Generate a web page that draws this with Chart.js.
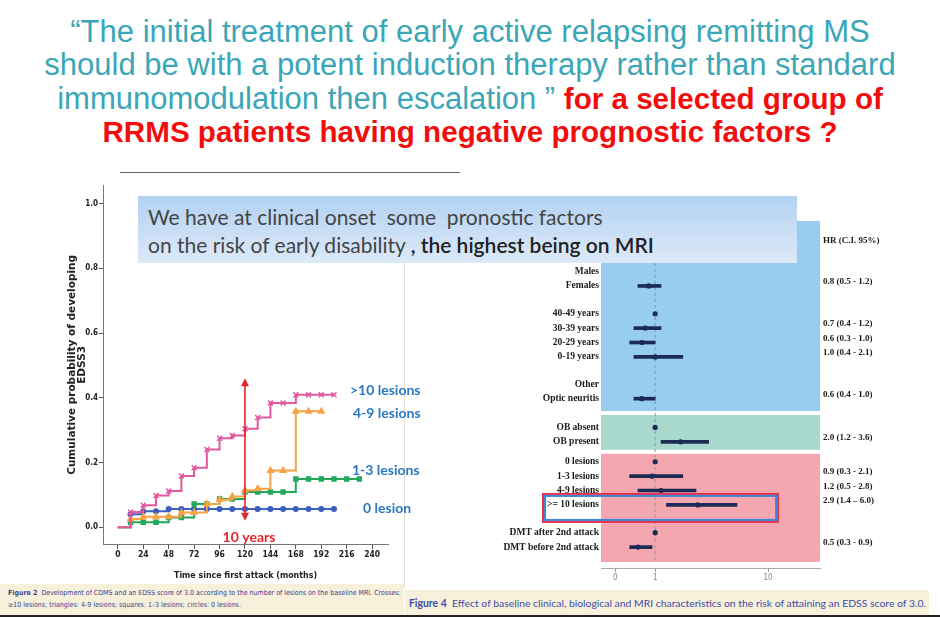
<!DOCTYPE html>
<html>
<head>
<meta charset="utf-8">
<script src="https://cdn.jsdelivr.net/npm/chart.js@4.4.1/dist/chart.umd.min.js"></script>
<style>
  body { margin: 0; width: 940px; height: 617px; overflow: hidden; background: #fff; position: relative; font-family: 'Liberation Sans', Arial, sans-serif; }
  .abs { position: absolute; }
  #title { left: 0; top: 15px; width: 940px; text-align: center; font-size: 31px; line-height: 33.3px; color: #3ba6b7; white-space: nowrap; }
  #title b { color: #f20d0d; font-size: 29.6px; }
  #rule { left: 120px; top: 172px; width: 340px; height: 1px; background: #666; }
  #note { left: 138px; top: 196px; width: 649px; height: 60px; padding: 7px 0 0 10px; z-index: 5; white-space: nowrap;
          background: linear-gradient(#b2d2f2, #dde9f8); color: #444; font-family: Lato, sans-serif; font-size: 21px; line-height: 28px; }
  #note b { color: #222; font-weight: 600; }
  .lab { font-family: Lato, sans-serif; font-weight: bold; font-size: 14px; color: #2a78c2; line-height: 16px; z-index: 3; }
  #divider { left: 404px; top: 258px; width: 1px; height: 330px; background: #e4e0d2; }
  #cap1 { left: 0; top: 584px; width: 396px; height: 31px; padding: 3px 0 0 8px; background: #f7f1dc; color: #3b3b8c; white-space: nowrap;
          font-family: 'DejaVu Sans Condensed', sans-serif; font-size: 7px; line-height: 12px; }
  #cap2 { left: 405px; top: 590px; width: 520px; height: 25px; padding: 0 0 0 4px; background: #f7f1dc; color: #3d4aa8;
          font-family: Lato, sans-serif; font-size: 10.4px; line-height: 27px; white-space: nowrap; }
  #foot { left: 0; top: 615px; width: 940px; height: 2px; background: #222; }
</style>
</head>
<body>
<div id="title" class="abs">“The initial treatment of early active relapsing remitting MS<br>should be with a potent induction therapy rather than standard<br>immunomodulation then escalation ” <b>for a selected group of<br>RRMS patients having negative prognostic factors ?</b></div>
<div id="rule" class="abs"></div>

<div class="abs" style="left:0;top:180px;width:400px;height:401px"><canvas id="km"></canvas></div>
<div class="abs" style="left:405px;top:200px;width:535px;height:388px"><canvas id="forest"></canvas></div>
<div id="divider" class="abs"></div>

<div id="note" class="abs">We have at clinical onset&nbsp; some&nbsp; pronostic factors<br>on the risk of early disability <b>, the highest being on MRI</b></div>

<div class="abs lab" style="left:350px;top:382px">&gt;10 lesions</div>
<div class="abs lab" style="left:353px;top:405px">4-9 lesions</div>
<div class="abs lab" style="left:352px;top:462px">1-3 lesions</div>
<div class="abs lab" style="left:363px;top:500px">0 lesion</div>

<div id="cap1" class="abs"><b>Figure 2</b>&nbsp; Development of CDMS and an EDSS score of 3.0 according to the number of lesions on the baseline MRI. Crosses:<br>≥10 lesions; triangles: 4-9 lesions; squares: 1–3 lesions; circles: 0 lesions.</div>
<div id="cap2" class="abs"><b>Figure 4</b>&nbsp; Effect of baseline clinical, biological and MRI characteristics on the risk of attaining an EDSS score of 3.0.</div>
<div id="foot" class="abs"></div>

<script>
// ---- Figure 2: cumulative probability of EDSS 3 (Kaplan-Meier style steps) ----
const months = [0, 12, 24, 36, 48, 60, 72, 84, 96, 108, 120, 132, 144, 156, 168, 180, 192, 204, 216, 228];
const lesionsOver10 = [0, 0.047, 0.068, 0.098, 0.112, 0.158, 0.184, 0.240, 0.275, 0.283, 0.304, 0.339, 0.384, 0.384, 0.409, 0.409, 0.409, 0.409];
const lesions4to9 = [0, 0.025, 0.032, 0.032, 0.032, 0.045, 0.045, 0.072, 0.085, 0.095, 0.114, 0.119, 0.175, 0.175, 0.358, 0.358, 0.358];
const lesions1to3 = [0, 0.015, 0.015, 0.015, 0.030, 0.030, 0.072, 0.072, 0.087, 0.087, 0.109, 0.109, 0.109, 0.109, 0.149, 0.149, 0.149, 0.149, 0.149, 0.149];
const lesions0 = [0, 0.040, 0.049, 0.049, 0.056, 0.056, 0.056, 0.056, 0.056, 0.056, 0.056, 0.056, 0.056, 0.056, 0.056, 0.056, 0.056, 0.056];
const monthTicks = [0, 24, 48, 72, 96, 120, 144, 168, 192, 216, 240];
const probTicks = [0, 0.2, 0.4, 0.6, 0.8, 1.0];
const tenYears = 120;

// ---- Figure 4: hazard ratios ----
const groups = [
  ['Males', 'Females'],
  ['40-49 years', '30-39 years', '20-29 years', '0-19 years'],
  ['Other', 'Optic neuritis'],
  ['OB absent', 'OB present'],
  ['0 lesions', '1-3 lesions', '4-9 lesions', '>= 10 lesions'],
  ['DMT after 2nd attack', 'DMT before 2nd attack']
];
const hazard = [null, 0.8, 1, 0.7, 0.6, 1.0, null, 0.6, 1, 2.0, 1, 0.9, 1.2, 2.9, 1, 0.5];
const ciLow  = [null, 0.5, null, 0.4, 0.3, 0.4, null, 0.4, null, 1.2, null, 0.3, 0.5, 1.4, null, 0.3];
const ciHigh = [null, 1.2, null, 1.2, 1.0, 2.1, null, 1.0, null, 3.6, null, 2.1, 2.8, 6.0, null, 0.9];
const hrTicks = [0, 1, 10];
const highlightRow = '>= 10 lesions';

const narrow = '"DejaVu Sans Condensed", sans-serif';
const serif = '"Liberation Serif", "Times New Roman", serif';

function steps(vals) {
  return vals.map((v, i) => ({ x: months[i], y: v }));
}

function kmSet(label, vals, color, style, r) {
  return {
    label: label,
    data: steps(vals),
    stepped: 'before',
    borderColor: color,
    backgroundColor: color,
    borderWidth: 2,
    pointStyle: style,
    pointRadius: c => c.dataIndex === 0 ? 0 : r,
    pointBorderWidth: 1.5,
    fill: false
  };
}

const arrowPlugin = {
  id: 'tenYearArrow',
  afterDatasetsDraw(chart) {
    const { ctx, scales: { x, y } } = chart;
    const px = x.getPixelForValue(tenYears);
    const top = y.getPixelForValue(0.46), bot = y.getPixelForValue(0.02);
    ctx.save();
    ctx.strokeStyle = ctx.fillStyle = '#e3262d';
    ctx.lineWidth = 1.6;
    ctx.beginPath(); ctx.moveTo(px, top + 4); ctx.lineTo(px, bot - 4); ctx.stroke();
    ctx.beginPath(); ctx.moveTo(px, top); ctx.lineTo(px - 4, top + 8); ctx.lineTo(px + 4, top + 8); ctx.closePath(); ctx.fill();
    ctx.beginPath(); ctx.moveTo(px, bot); ctx.lineTo(px - 4, bot - 8); ctx.lineTo(px + 4, bot - 8); ctx.closePath(); ctx.fill();
    ctx.font = 'bold 14px Lato, sans-serif';
    ctx.textAlign = 'center'; ctx.textBaseline = 'middle';
    ctx.fillText('10 years', px + 4, y.getPixelForValue(-0.031));
    ctx.restore();
  }
};

new Chart(document.getElementById('km'), {
  type: 'line',
  data: {
    datasets: [
      kmSet('>10 lesions', lesionsOver10, '#e2589c', 'crossRot', 3.5),
      kmSet('4-9 lesions', lesions4to9, '#f6a245', 'triangle', 3.2),
      kmSet('1-3 lesions', lesions1to3, '#22a85a', 'rect', 2.8),
      kmSet('0 lesion', lesions0, '#3d5fbf', 'circle', 2.3)
    ]
  },
  options: {
    responsive: true,
    maintainAspectRatio: false,
    animation: false,
    events: [],
    layout: { padding: { left: 67, top: 5, right: 12, bottom: 0 } },
    plugins: { legend: { display: false }, tooltip: { enabled: false } },
    scales: {
      x: {
        type: 'linear', min: -14, max: 255,
        afterBuildTicks: a => { a.ticks = monthTicks.map(v => ({ value: v })); },
        afterFit: a => { a.height = 37; },
        grid: { drawOnChartArea: false, tickLength: 5, color: '#555' },
        border: { color: '#777' },
        ticks: { padding: 1, color: '#222', font: { family: narrow, size: 8.5, weight: 'bold' } },
        title: { display: true, text: 'Time since first attack (months)', color: '#222', padding: 0,
                 font: { family: narrow, size: 8.8, weight: 'bold', lineHeight: 1.3 } }
      },
      y: {
        type: 'linear', min: -0.052, max: 1.055,
        afterBuildTicks: a => { a.ticks = probTicks.map(v => ({ value: v })); },
        afterFit: a => { a.width = 36; },
        grid: { drawOnChartArea: false, tickLength: 4, color: '#555' },
        border: { color: '#777' },
        ticks: { padding: 1, color: '#222', font: { family: narrow, size: 8, weight: 'bold' },
                 callback: v => v.toFixed(1) },
        title: { display: true, text: ['Cumulative probability of developing', 'EDSS3'], color: '#222', padding: 0,
                 font: { family: '"DejaVu Sans", sans-serif', size: 10.5, weight: 'bold', lineHeight: 0.95 } }
      }
    }
  },
  plugins: [arrowPlugin]
});

// ---- forest plot ----
// extra spacing (in rows) between consecutive groups of the published figure
const groupGap = [0.93, 0.9, 1.0, 0.38, 0.93];
const rowLabels = [], rowPos = [], rowGroup = [];
let p = 0;
groups.forEach((g, gi) => {
  g.forEach(l => { rowLabels.push(l); rowPos.push(p); rowGroup.push(gi); p += 1; });
  p += groupGap[gi] || 0;
});
const labelAt = new Map(rowPos.map((v, i) => [v, rowLabels[i]]));
const hrText = i => hazard[i].toFixed(1) + ' (' + ciLow[i].toFixed(1) + (rowLabels[i] === highlightRow ? ' – ' : ' - ') + ciHigh[i].toFixed(1) + ')';
const hrRows = rowPos.map((v, i) => i).filter(i => ciLow[i] !== null);
const hrAt = new Map(hrRows.map(i => [rowPos[i], hrText(i)]));

// hazard-ratio axis: linear near 0-1, compressed above (as in the published figure)
const K = 0.75;
const tf = v => Math.log(1 + K * v);
class ForestScale extends Chart.LinearScale {
  getPixelForValue(value) {
    const a = tf(this.min), b = tf(this.max);
    return this.getPixelForDecimal((tf(value) - a) / (b - a));
  }
  getValueForPixel(pixel) {
    const a = tf(this.min), b = tf(this.max);
    return (Math.exp(a + this.getDecimalForPixel(pixel) * (b - a)) - 1) / K;
  }
}
ForestScale.id = 'forestHR';
Chart.register(ForestScale);

const bands = [
  { groups: [0, 1, 2], color: '#97cdee' },
  { groups: [3], color: '#a9d9cc' },
  { groups: [4, 5], color: '#f4a7af' }
];

const yMin = -3.51, yMax = 20.59;

const forestPlugin = {
  id: 'forestDecor',
  beforeDatasetsDraw(chart) {
    const { ctx, chartArea: ca, scales: { x, y } } = chart;
    ctx.save();
    bands.forEach((b, bi) => {
      const idx = rowPos.map((v, i) => i).filter(i => b.groups.includes(rowGroup[i]));
      const first = idx[0], last = idx[idx.length - 1];
      const top = bi === 0 ? ca.top : y.getPixelForValue((rowPos[first - 1] + rowPos[first]) / 2) + 2;
      const bot = bi === bands.length - 1 ? ca.bottom - 6 : y.getPixelForValue((rowPos[last] + rowPos[last + 1]) / 2) - 2;
      ctx.fillStyle = b.color;
      ctx.fillRect(ca.left, top, ca.right - ca.left, bot - top);
    });
    const x1 = x.getPixelForValue(1);
    ctx.strokeStyle = '#7f98ad'; ctx.lineWidth = 1; ctx.setLineDash([3, 3]);
    ctx.beginPath(); ctx.moveTo(x1, ca.top); ctx.lineTo(x1, ca.bottom - 6); ctx.stroke();
    ctx.restore();
  },
  afterDatasetsDraw(chart) {
    const { ctx, chartArea: ca, scales: { x, y } } = chart;
    const py = y.getPixelForValue(rowPos[rowLabels.indexOf(highlightRow)]);
    const l = ca.left - 58, r = x.getPixelForValue(11.7);
    const t = py - 11, b = py + 17;
    ctx.save();
    ctx.lineWidth = 2;
    ctx.strokeStyle = '#e2334f'; ctx.strokeRect(l, t, r - l, b - t);
    ctx.strokeStyle = '#3e86d6'; ctx.strokeRect(l + 2, t + 2, r - l - 4, b - t - 4);
    ctx.fillStyle = '#1a1a1a';
    ctx.font = 'bold 9px ' + serif;
    ctx.textAlign = 'left'; ctx.textBaseline = 'middle';
    ctx.fillText('HR (C.I. 95%)', ca.right + 3, y.getPixelForValue(-2.15));
    ctx.restore();
  }
};

new Chart(document.getElementById('forest'), {
  type: 'bar',
  data: {
    datasets: [
      {
        type: 'scatter',
        data: rowPos.map((v, i) => ({ x: hazard[i], y: v })).filter(d => d.x !== null),
        pointRadius: 2.6,
        pointBackgroundColor: '#1b2b55',
        pointBorderWidth: 0
      },
      {
        data: hrRows.map(i => ({ x: [ciLow[i], ciHigh[i]], y: rowPos[i] })),
        backgroundColor: '#1b2b55',
        barThickness: 3,
        borderWidth: 0
      }
    ]
  },
  options: {
    indexAxis: 'y',
    responsive: true,
    maintainAspectRatio: false,
    animation: false,
    events: [],
    layout: { padding: { top: 21, left: 0, right: 0, bottom: 0 } },
    plugins: { legend: { display: false }, tooltip: { enabled: false } },
    scales: {
      x: {
        type: 'forestHR', position: 'bottom', min: -0.24, max: 22.1, offset: false,
        afterBuildTicks: a => { a.ticks = hrTicks.map(v => ({ value: v })); },
        afterFit: a => { a.height = 20; },
        grid: { drawOnChartArea: false, tickLength: 4, color: '#999' },
        border: { color: '#aaa' },
        ticks: { padding: 1, color: '#888', font: { family: narrow, size: 8 } }
      },
      y: {
        type: 'linear', position: 'left', reverse: true, min: yMin, max: yMax, offset: false,
        afterBuildTicks: a => { a.ticks = rowPos.map(v => ({ value: v })); },
        afterFit: a => { a.width = 196; },
        grid: { display: false, drawTicks: false, offset: false },
        border: { display: false },
        ticks: { autoSkip: false, padding: 2, color: '#1a1a1a', font: { family: serif, size: 9.5, weight: 'bold' },
                 callback: v => labelAt.get(v) }
      },
      hr: {
        type: 'linear', position: 'right', reverse: true, min: yMin + 0.3, max: yMax + 0.3, offset: false,
        afterBuildTicks: a => { a.ticks = hrRows.map(i => ({ value: rowPos[i] })); },
        afterFit: a => { a.width = 120; },
        grid: { display: false, drawTicks: false, offset: false },
        border: { display: false },
        ticks: { autoSkip: false, padding: 3, color: '#1a1a1a', font: { family: serif, size: 9, weight: 'bold' },
                 callback: v => hrAt.get(v) }
      }
    }
  },
  plugins: [forestPlugin]
});
</script>
</body>
</html>
